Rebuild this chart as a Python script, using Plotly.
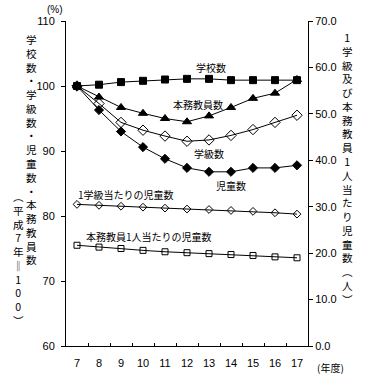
import plotly.graph_objects as go

years = [7, 8, 9, 10, 11, 12, 13, 14, 15, 16, 17]
year_labels = [str(y) for y in years]

schools = [100.0, 100.2, 100.6, 100.8, 101.0, 101.1, 101.1, 100.9, 100.9, 100.9, 100.9]
teachers = [100.0, 98.3, 96.7, 95.8, 95.0, 94.5, 95.4, 96.7, 98.1, 98.9, 101.0]
classes = [100.0, 97.3, 94.4, 93.2, 92.3, 91.5, 91.7, 92.4, 93.3, 94.4, 95.5]
pupils = [100.0, 96.3, 93.0, 90.6, 88.8, 87.4, 86.8, 86.8, 87.4, 87.4, 87.8]
pupils_per_class = [30.5, 30.3, 30.1, 29.9, 29.7, 29.5, 29.4, 29.2, 29.0, 28.7, 28.4]
pupils_per_teacher = [21.7, 21.3, 21.0, 20.6, 20.3, 20.1, 19.9, 19.7, 19.5, 19.2, 19.0]

JP = "Noto Sans CJK JP"
NUM = "Liberation Sans"

fig = go.Figure()

def add(y, symbol, size, axis="y", lw=1):
    fig.add_trace(go.Scatter(
        x=years, y=y, mode="lines+markers", yaxis=axis,
        line=dict(color="black", width=lw),
        marker=dict(symbol=symbol, size=size, color="black",
                    line=dict(color="black", width=1)),
        showlegend=False, hoverinfo="skip"))

add(pupils_per_class, "diamond-open", 6, "y2")
add(pupils_per_teacher, "square-open", 6, "y2")
add(pupils, "diamond", 7)
add(classes, "diamond-open", 8)
add(teachers, "triangle-up", 8)
add(schools, "square", 7)

fig.update_layout(
    width=380, height=381,
    margin=dict(l=66, r=72, t=21, b=35),
    paper_bgcolor="white", plot_bgcolor="white",
    font=dict(family=NUM, size=11, color="black"),
    hovermode=False,
    xaxis=dict(
        range=[6.5, 17.5], tickvals=years, ticktext=year_labels,
        showline=True, linecolor="black", linewidth=1, mirror=False,
        ticks="", showgrid=False, zeroline=False,
        tickfont=dict(family=NUM, size=11), ticklabelstandoff=7,
        minor=dict(tickvals=[y + 0.5 for y in years[:-1]], ticks="inside",
                   ticklen=3, tickcolor="black", showgrid=False),
    ),
    yaxis=dict(
        range=[60, 110], dtick=10, showline=True, linecolor="black",
        linewidth=1, ticks="outside", ticklen=4, tickcolor="black",
        showgrid=False, zeroline=False, tickfont=dict(family=NUM, size=11),
        ticklabelstandoff=4,
    ),
    yaxis2=dict(
        range=[0, 70], dtick=10, tickformat=".1f", overlaying="y", side="right",
        showline=True, linecolor="black", linewidth=1, ticks="outside",
        ticklen=4, tickcolor="black", showgrid=False, zeroline=False,
        tickfont=dict(family=NUM, size=11),
    ),
)

def vert(s):
    return "<br>".join(list(s))

ann = [
    dict(x=13.1, y=102.8, text="学校数", xref="x", yref="y"),
    dict(x=12.5, y=97.1, text="本務教員数", xref="x", yref="y"),
    dict(x=13.0, y=89.6, text="学級数", xref="x", yref="y"),
    dict(x=14.0, y=84.7, text="児童数", xref="x", yref="y"),
    dict(x=6.95, y=83.3, text="1学級当たりの児童数", xref="x", yref="y", xanchor="left"),
    dict(x=7.3, y=76.9, text="本務教員1人当たりの児童数", xref="x", yref="y", xanchor="left"),
]
for a in ann:
    a.setdefault("xanchor", "center")
    a.update(showarrow=False, yanchor="middle",
             font=dict(family=JP, size=10, color="black"))
    fig.add_annotation(**a)

fig.add_annotation(x=-0.144, y=0.605, xref="paper", yref="paper",
                   text=vert("学校数・学級数・児童数・本務教員数"), showarrow=False,
                   xanchor="center", yanchor="middle", borderpad=0,
                   font=dict(family=JP, size=10.6, color="black"))
fig.add_annotation(x=-0.196, y=0.269, xref="paper", yref="paper",
                   text=vert("︵平成7年‖100︶"), showarrow=False,
                   xanchor="center", yanchor="middle", borderpad=0,
                   font=dict(family=JP, size=10.6, color="black"))
fig.add_annotation(x=1.165, y=0.545, xref="paper", yref="paper",
                   text=vert("1学級及び本務教員1人当たり児童数︵人︶"), showarrow=False,
                   xanchor="center", yanchor="middle", borderpad=0,
                   font=dict(family=JP, size=10.6, color="black"))
fig.add_annotation(x=-0.045, y=1.034, xref="paper", yref="paper",
                   text="(%)", showarrow=False, xanchor="center", yanchor="middle",
                   font=dict(family=NUM, size=10, color="black"))
fig.add_annotation(x=1.095, y=-0.065, xref="paper", yref="paper",
                   text="(年度)", showarrow=False, xanchor="center", yanchor="middle",
                   font=dict(family=JP, size=10, color="black"))

fig.write_html("out.html", config={"displayModeBar": False},
               post_script="document.body.style.margin='0';document.body.style.padding='0';")
